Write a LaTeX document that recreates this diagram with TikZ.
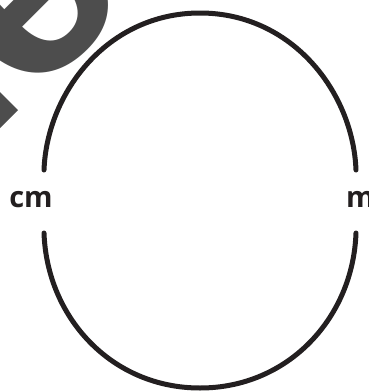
\documentclass[tikz,border=0pt]{standalone}
\usepackage{fontspec}
\setmainfont{Open Sans}
\newfontfamily\stampfont{Liberation Sans}
\definecolor{rimblack}{HTML}{231F20}
\definecolor{stampgray}{HTML}{4D4D4D}

\begin{document}
\begin{tikzpicture}[x=1pt,y=-1pt,
  rim/.style={rimblack,line width=5pt,line cap=round},
  unitlabel/.style={rimblack,inner sep=0pt,anchor=base,
    font=\bfseries\fontsize{29}{29}\selectfont}]
  \useasboundingbox (0,0) rectangle (368,392);
  \clip (0,0) rectangle (368,392);
  \fill[stampgray] (0,92) -- (18,110) -- (0,128) -- cycle;
  \node[stampgray,inner sep=0pt,rotate=45,yscale=-1,
    font=\stampfont\bfseries\fontsize{290}{290}\selectfont] (stamp) at (30,-4) {e};
  \draw[rim] (44,170) .. controls (47,92) and (108,13) .. (200,13)
    .. controls (292,13) and (353,92) .. (356,170);
  \draw[rim] (44,233) .. controls (47,318) and (112,388) .. (200,388)
    .. controls (288,388) and (353,318) .. (356,233);
  \node[unitlabel] (cm) at (31,207) {cm};
  \node[unitlabel,anchor=base west] (m) at (346,207) {m};
\end{tikzpicture}
\end{document}
